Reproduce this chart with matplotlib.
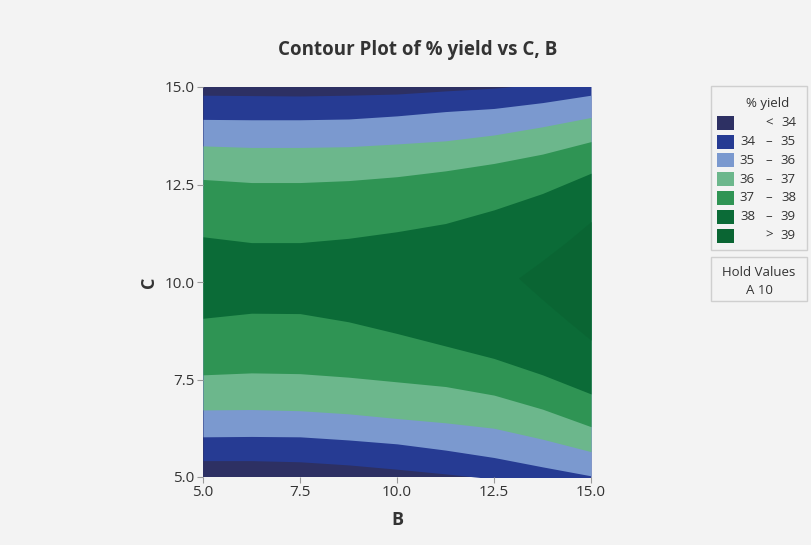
import matplotlib
matplotlib.use("Agg")
import matplotlib.pyplot as plt
from matplotlib.patches import Rectangle

# ---- data ----
B_pts = [5, 6.25, 7.5, 8.75, 10, 11.25, 12.5, 13.75, 15]
# C positions where each yield contour crosses (upper and lower branches)
c34_top = [14.79, 14.78, 14.77, 14.79, 14.82, 14.90, 14.97, 15.08, 15.20]
c35_top = [14.17, 14.16, 14.16, 14.18, 14.26, 14.37, 14.45, 14.60, 14.79]
c36_top = [13.49, 13.45, 13.45, 13.47, 13.54, 13.62, 13.77, 13.98, 14.22]
c37_top = [12.63, 12.55, 12.55, 12.60, 12.70, 12.85, 13.04, 13.28, 13.60]
c38_top = [11.16, 11.01, 11.01, 11.12, 11.29, 11.50, 11.85, 12.27, 12.79]
c38_bot = [9.07, 9.20, 9.19, 8.98, 8.68, 8.36, 8.04, 7.62, 7.13]
c37_bot = [7.62, 7.67, 7.65, 7.56, 7.44, 7.32, 7.10, 6.74, 6.29]
c36_bot = [6.72, 6.73, 6.70, 6.62, 6.50, 6.39, 6.25, 5.97, 5.65]
c35_bot = [6.03, 6.04, 6.03, 5.95, 5.85, 5.69, 5.50, 5.26, 5.03]
c34_bot = [5.42, 5.42, 5.39, 5.31, 5.20, 5.08, 4.95, 4.80, 4.65]
# small region above 39 near the right edge
B_39 = [13.13, 13.75, 14.4, 15]
c39_top = [10.10, 10.55, 11.05, 11.55]
c39_bot = [10.10, 9.55, 9.00, 8.51]

legend_labels = [("", "<", "34"), ("34", "–", "35"), ("35", "–", "36"),
                 ("36", "–", "37"), ("37", "–", "38"), ("38", "–", "39"),
                 ("", ">", "39")]
ticks = [5.0, 7.5, 10.0, 12.5, 15.0]
hold_values = "A 10"

colors = ["#2d3063", "#263b93", "#7b99cf", "#6cb78c", "#2f9454", "#0b6b37", "#0a6533"]
BG = "#f3f3f3"

plt.rcParams['font.family'] = ['Open Sans', 'DejaVu Sans']

fig = plt.figure(figsize=(8.11, 5.45), dpi=100, facecolor=BG)
W, H = 811, 545
ax = fig.add_axes([203 / W, 1 - 477 / H, (591 - 203) / W, (477 - 87) / H])
ax.set_facecolor(BG)

# nested bands, painted from outside in
ax.fill_between([5, 15], [5, 5], [15, 15], color=colors[0], lw=0)
ax.fill_between(B_pts, c34_bot, c34_top, color=colors[1], lw=0)
ax.fill_between(B_pts, c35_bot, c35_top, color=colors[2], lw=0)
ax.fill_between(B_pts, c36_bot, c36_top, color=colors[3], lw=0)
ax.fill_between(B_pts, c37_bot, c37_top, color=colors[4], lw=0)
ax.fill_between(B_pts, c38_bot, c38_top, color=colors[5], lw=0)
ax.fill_between(B_39, c39_bot, c39_top, color=colors[6], lw=0)

ax.set_xlim(5, 15)
ax.set_ylim(5, 15)
ax.set_xticks(ticks)
ax.set_yticks(ticks)
ax.set_xticklabels([f"{t:.1f}" for t in ticks])
ax.set_yticklabels([f"{t:.1f}" for t in ticks])
for s in ax.spines.values():
    s.set_visible(False)
ax.tick_params(axis='both', direction='out', length=4, width=0.8, color='#9a9a9a',
               labelsize=11, labelcolor='#333333', pad=2)
ax.set_xlabel("B", fontsize=13, fontweight='bold', color='#333333', labelpad=8)
ax.set_ylabel("C", fontsize=13, fontweight='bold', color='#333333', labelpad=5)

fig.text(418 / W, 1 - 50 / H, "Contour Plot of % yield vs C, B", ha='center', va='center',
         fontsize=13.5, fontweight='bold', color='#333333')

# overlay for legend, pixel coordinates
ov = fig.add_axes([0, 0, 1, 1], facecolor='none')
ov.set_xlim(0, W)
ov.set_ylim(H, 0)
ov.axis('off')

ov.add_patch(Rectangle((711, 86), 96, 164, facecolor=BG, edgecolor='#cfcfcf', lw=1))
ov.text(768, 103, "% yield", ha='center', va='center', fontsize=9.5, color='#333333')
row_y = [122.7, 141.5, 160.3, 179.1, 197.9, 216.7, 235.5]
for (lo, mid, hi), c, y in zip(legend_labels, colors, row_y):
    ov.add_patch(Rectangle((717, y - 7), 17, 14, facecolor=c, edgecolor='none'))
    if lo:
        ov.text(755, y, lo, ha='right', va='center', fontsize=9.5, color='#333333')
    ov.text(769, y, mid, ha='center', va='center', fontsize=9.5, color='#333333')
    ov.text(796, y, hi, ha='right', va='center', fontsize=9.5, color='#333333')

ov.add_patch(Rectangle((711, 257), 96, 44, facecolor=BG, edgecolor='#cfcfcf', lw=1))
ov.text(759, 272, "Hold Values", ha='center', va='center', fontsize=9.5, color='#333333')
ov.text(759, 291, hold_values, ha='center', va='center', fontsize=9.5, color='#333333')

fig.savefig("out.png", dpi=100, facecolor=BG)
